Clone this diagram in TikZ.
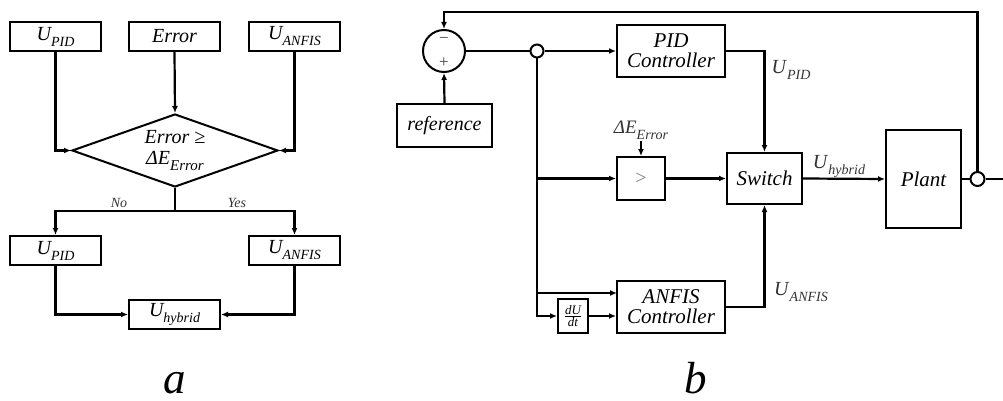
\documentclass[tikz,border=0pt]{standalone}
\usepackage{fontspec}
\setmainfont{Liberation Serif}
\usetikzlibrary{arrows.meta,shapes.geometric}
\newcommand\lbl[2]{\textit{#1}\raisebox{-0.3em}{\fontsize{14}{15}\selectfont\textit{#2}}}
\begin{document}
\begin{tikzpicture}[x=1pt,y=-1pt,
  box/.style={draw,line width=2pt,inner sep=0pt,align=center,font=\fontsize{20}{22}\selectfont\itshape},
  bbox/.style={draw,line width=2pt,inner sep=0pt,align=center,font=\fontsize{21}{22}\selectfont\itshape},
  ln/.style={draw,line width=2.2pt},
  arr/.style={draw,line width=2.2pt,-{Latex[length=7pt,width=6pt]}},
  jn/.style={draw,circle,line width=2pt,inner sep=0pt,fill=white},
  lab/.style={inner sep=0pt,text=black!80,font=\fontsize{20}{22}\selectfont},
  small/.style={inner sep=0pt,text=black!80,font=\fontsize{14}{16}\selectfont\itshape},
  big/.style={inner sep=0pt,anchor=base,font=\fontsize{45}{48}\selectfont\itshape}]
\useasboundingbox (0,0) rectangle (1003,401);
% ---------- (a) ----------
\node[box,minimum width=91pt,minimum height=29pt] (aupid) at (55.5,36.5) {\lbl{U}{PID}};
\node[box,minimum width=91pt,minimum height=29pt] (aerr) at (174.5,36.5) {Error};
\node[box,minimum width=91pt,minimum height=29pt] (auanf) at (294.5,36.5) {\lbl{U}{ANFIS}};
\node[draw,diamond,line width=2pt,inner sep=0pt,minimum width=206pt,minimum height=73pt,aspect=2.8,align=center,font=\fontsize{20}{23}\selectfont\itshape] (dia) at (175,150.5) {Error ≥\\[-2pt]ΔE\raisebox{-0.3em}{\fontsize{15}{16}\selectfont Error}};
\node[box,minimum width=91pt,minimum height=29pt] (bupid) at (55.5,250.5) {\lbl{U}{PID}};
\node[box,minimum width=91pt,minimum height=29pt] (buanf) at (294.5,250.5) {\lbl{U}{ANFIS}};
\node[box,minimum width=91pt,minimum height=29pt] (uhyb) at (174.5,314.5) {\lbl{U}{hybrid}};
\coordinate (br) at (175,211);
\node[small] (no) at (119,203) {No};
\node[small] (yes) at (237,203) {Yes};
\draw[arr] (aupid.south) |- (dia.west);
\draw[arr] (aerr.south) -- (dia.north);
\draw[arr] (auanf.south) |- (dia.east);
\draw[ln] (dia.south) -- (br);
\draw[arr] (br) -| (bupid.north);
\draw[arr] (br) -| (buanf.north);
\draw[arr] (bupid.south) |- (uhyb.west);
\draw[arr] (buanf.south) |- (uhyb.east);
\node[big] (la) at (175,393) {a};
% ---------- (b) ----------
\node[draw,circle,line width=2pt,minimum size=42pt,inner sep=0pt] (sum) at (444,51) {};
\node[inner sep=0pt,text=black!75,font=\fontsize{17}{18}\selectfont] (minus) at (444,40) {−};
\node[inner sep=0pt,text=black!75,font=\fontsize{17}{18}\selectfont] (plus) at (444,63) {+};
\node[bbox,minimum width=95pt,minimum height=43pt,font=\fontsize{20}{22}\selectfont\itshape] (ref) at (444.5,125.5) {reference};
\node[jn,minimum size=13pt] (j1) at (537,51) {};
\node[bbox,minimum width=108pt,minimum height=52pt] (pid) at (671,51) {PID\\[-2pt]Controller};
\node[bbox,minimum width=48pt,minimum height=43pt,text=black!50,font=\fontsize{20}{22}\selectfont] (cmp) at (641,178.5) {>};
\node[bbox,minimum width=75pt,minimum height=51pt] (sw) at (764.5,178.5) {Switch};
\node[bbox,minimum width=75pt,minimum height=98pt] (plant) at (923.5,179) {Plant};
\node[jn,minimum size=14pt] (j2) at (977.5,179) {};
\node[bbox,minimum width=108pt,minimum height=52pt] (anfis) at (671,307) {ANFIS\\[-2pt]Controller};
\node[draw,line width=2pt,inner sep=0pt,minimum width=30pt,minimum height=34pt,font=\fontsize{13}{14}\selectfont] (dudt) at (573,316) {$\frac{\textit{dU}}{\textit{dt}}$};
\node[lab,font=\fontsize{19}{20}\selectfont\itshape] (de) at (641,130) {ΔE\raisebox{-0.3em}{\fontsize{14}{15}\selectfont Error}};
\node[lab] (lupid) at (791,70) {\lbl{U}{PID}};
\node[lab] (luhyb) at (839,166) {\lbl{U}{hybrid}};
\node[lab] (luanf) at (801,292) {\lbl{U}{ANFIS}};
\coordinate (fb) at (444,12);
\coordinate (out) at (1003,179);
\coordinate (ain1) at (617,293);
\draw[arr] (j2.north) |- (fb) -- (sum.north);
\draw[arr] (ref.north) -- (sum.south);
\draw[ln] (sum.east) -- (j1.west);
\draw[arr] (j1.east) -- (pid.west);
\draw[arr] (j1.south) |- (cmp.west);
\draw[arr] (j1.south) |- (ain1);
\draw[arr] (j1.south) |- (dudt.west);
\draw[arr] (dudt.east) -- (dudt.east -| anfis.west);
\draw[arr] (de.south) ++(0,2) -- (cmp.north);
\draw[arr] (cmp.east) -- (sw.west);
\draw[arr] (pid.east) -| (sw.north);
\draw[arr] (anfis.east) -| (sw.south);
\draw[arr] (sw.east) -- (plant.west);
\draw[ln] (plant.east) -- (j2.west);
\draw[ln] (j2.east) -- (out);
\node[big] (lb) at (696,393) {b};
\end{tikzpicture}
\end{document}
